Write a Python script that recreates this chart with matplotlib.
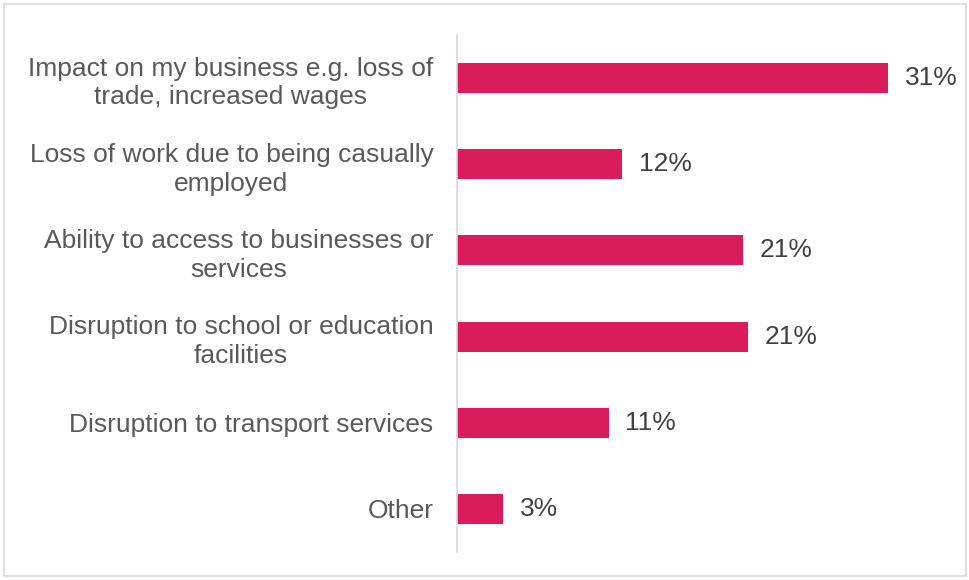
import matplotlib.pyplot as plt
from matplotlib.patches import Rectangle

plt.rcParams['font.family'] = ['Liberation Sans', 'DejaVu Sans']

categories = [
    "Impact on my business e.g. loss of\ntrade, increased wages",
    "Loss of work due to being casually\nemployed",
    "Ability to access to businesses or\nservices",
    "Disruption to school or education\nfacilities",
    "Disruption to transport services",
    "Other",
]
values = [31.0, 11.9, 20.6, 20.9, 10.9, 3.3]
labels = ["31%", "12%", "21%", "21%", "11%", "3%"]

barColor = "#DB1C5B"
catColor = "#595959"
valColor = "#404040"
fs = 19

fig = plt.figure(figsize=(9.7, 5.8), dpi=100)
ax = fig.add_axes([457/970, 1-552/580, 500/970, 517/580])

ypos = list(range(len(categories)))
ax.barh(ypos, values, height=0.35, color=barColor)
ax.set_ylim(len(categories)-0.5, -0.5)
ax.set_xlim(0, 500/13.9)

for y, v, lab in zip(ypos, values, labels):
    ax.text(v + 1.2, y, lab, va='center', ha='left', fontsize=fs, color=valColor)

ax.set_yticks(ypos)
ax.set_yticklabels(categories, fontsize=fs, color=catColor,
                   multialignment='center', linespacing=1.25)
ax.tick_params(axis='y', length=0, pad=17)
ax.set_xticks([])
for s in ['top', 'right', 'bottom']:
    ax.spines[s].set_visible(False)
ax.spines['left'].set_color('#d9d9d9')
ax.spines['left'].set_linewidth(1.2)

# outer border of the chart area
fig.patches.append(Rectangle((4/970, 4/580), 962/970, 572/580, transform=fig.transFigure,
                             fill=False, edgecolor='#d9d9d9', linewidth=1.2))

plt.savefig("out.png", dpi=100)
